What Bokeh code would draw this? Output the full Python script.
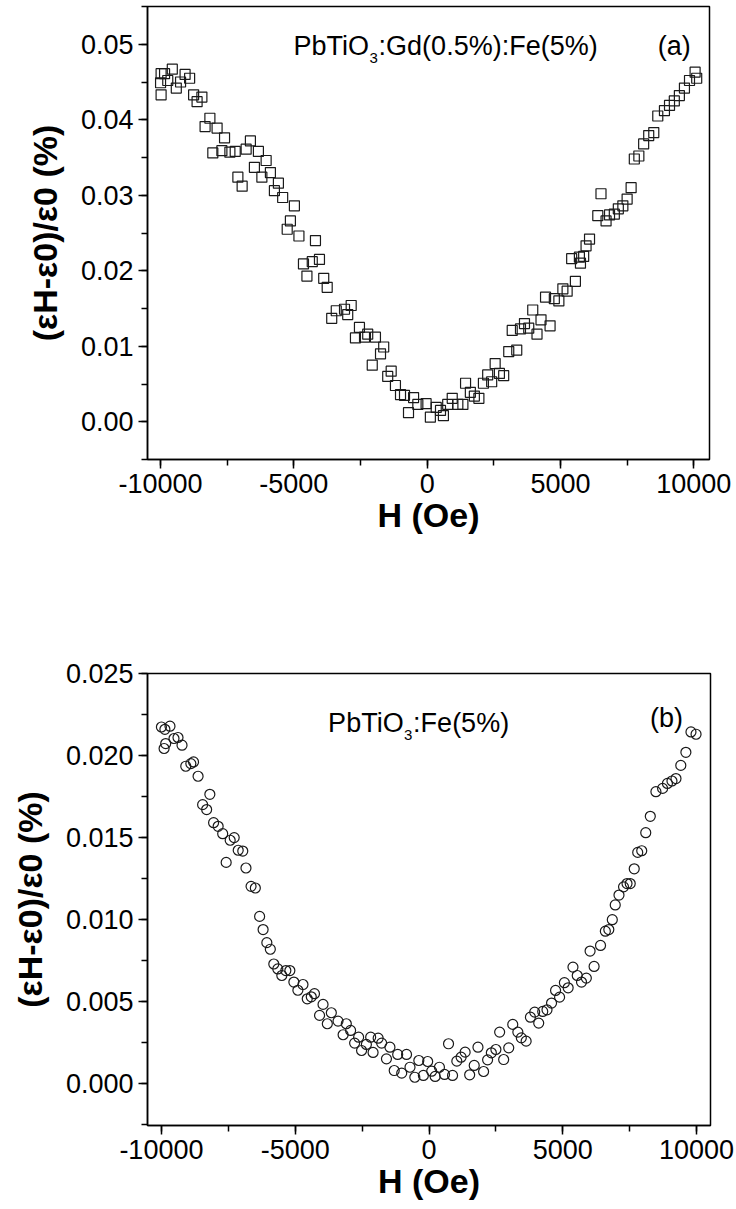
from bokeh.plotting import figure
from bokeh.layouts import column
from bokeh.models import Range1d, SingleIntervalTicker, PrintfTickFormatter, Label
from bokeh.embed import file_html
from bokeh.resources import INLINE

# ---------------- data ----------------
# (a) PbTiO3:Gd(0.5%):Fe(5%)
a_field = [-10000, -9980, -9980, -9850, -9730, -9560, -9410, -9250, -9080, -8910,
           -8760, -8630, -8450, -8330, -8150, -8040, -7880, -7700, -7600, -7400,
           -7200, -7100, -6940, -6790, -6630, -6480, -6330, -6200, -6040, -5880,
           -5730, -5580, -5420, -5250, -5130, -4980, -4810, -4640, -4510, -4310,
           -4190, -4040, -3880, -3750, -3580, -3410, -3100, -2980, -2850, -2690,
           -2540, -2350, -2230, -2060, -1940, -1750, -1630, -1480, -1350, -1190,
           -1000, -850, -700, -510, -350, -40, 120, 340, 500, 610,
           770, 940, 1150, 1340, 1440, 1620, 1770, 1940, 2110, 2270,
           2420, 2550, 2710, 2870, 3060, 3190, 3360, 3500, 3650, 3810,
           3960, 4120, 4270, 4440, 4610, 4770, 4940, 5090, 5250, 5420,
           5560, 5710, 5750, 5870, 5960, 6090, 6400, 6520, 6710, 6840,
           7020, 7170, 7340, 7500, 7650, 7770, 7940, 8120, 8310, 8500,
           8650, 8900, 9090, 9270, 9460, 9650, 9840, 10050, 10110]
a_strain = [0.0449, 0.0461, 0.0433, 0.0461, 0.0452, 0.0467, 0.0442, 0.0450, 0.0460, 0.0455,
            0.0433, 0.0424, 0.0430, 0.0391, 0.0402, 0.0356, 0.0389, 0.0359, 0.0376, 0.0357,
            0.0358, 0.0324, 0.0312, 0.0361, 0.0372, 0.0337, 0.0358, 0.0324, 0.0346, 0.0330,
            0.0306, 0.0316, 0.0297, 0.0255, 0.0266, 0.0286, 0.0246, 0.0209, 0.0193, 0.0212,
            0.0240, 0.0215, 0.0190, 0.0178, 0.0137, 0.0147, 0.0149, 0.0142, 0.0154, 0.0111,
            0.0125, 0.0112, 0.0116, 0.0075, 0.0112, 0.0090, 0.0099, 0.0060, 0.0067, 0.0048,
            0.0036, 0.0035, 0.0012, 0.0032, 0.0023, 0.0024, 0.0006, 0.0019, 0.0015, 0.0008,
            0.0023, 0.0031, 0.0023, 0.0023, 0.0051, 0.0039, 0.0034, 0.0031, 0.0051, 0.0062,
            0.0053, 0.0077, 0.0064, 0.0061, 0.0093, 0.0121, 0.0095, 0.0123, 0.0130, 0.0124,
            0.0148, 0.0116, 0.0135, 0.0165, 0.0127, 0.0163, 0.0160, 0.0176, 0.0173, 0.0216,
            0.0186, 0.0218, 0.0210, 0.0219, 0.0233, 0.0242, 0.0273, 0.0302, 0.0266, 0.0274,
            0.0275, 0.0282, 0.0286, 0.0295, 0.0310, 0.0348, 0.0352, 0.0368, 0.0379, 0.0383,
            0.0405, 0.0412, 0.0419, 0.0425, 0.0432, 0.0442, 0.0452, 0.0463, 0.0455]

# (b) PbTiO3:Fe(5%)
b_field = [-10000, -9900, -9870, -9840, -9680, -9530, -9380, -9230, -9090, -8900,
           -8800, -8630, -8460, -8310, -8190, -8050, -7880, -7710, -7580, -7430,
           -7280, -7130, -6960, -6840, -6650, -6490, -6330, -6200, -6060, -5930,
           -5800, -5650, -5500, -5350, -5200, -5050, -4900, -4710, -4550, -4400,
           -4280, -4090, -3960, -3800, -3650, -3400, -3210, -3090, -2930, -2780,
           -2630, -2520, -2340, -2180, -2090, -1900, -1770, -1590, -1460, -1300,
           -1170, -1020, -840, -710, -530, -380, -210, -50, 100, 230,
           390, 580, 730, 880, 1040, 1200, 1350, 1520, 1690, 1830,
           2040, 2190, 2330, 2500, 2640, 2790, 2980, 3130, 3320, 3450,
           3630, 3790, 3950, 4100, 4250, 4410, 4580, 4730, 4880, 5060,
           5200, 5380, 5540, 5700, 5880, 6020, 6170, 6410, 6590, 6720,
           6850, 6960, 7100, 7270, 7400, 7520, 7670, 7800, 7950, 8100,
           8270, 8480, 8730, 8910, 9080, 9230, 9410, 9600, 9790, 9980]
b_strain = [0.02174, 0.02043, 0.02160, 0.02073, 0.02179, 0.02104, 0.02110, 0.02063, 0.01935, 0.01951,
            0.01961, 0.01874, 0.01701, 0.01671, 0.01764, 0.01591, 0.01569, 0.01524, 0.01349, 0.01484,
            0.01500, 0.01423, 0.01418, 0.01315, 0.01203, 0.01193, 0.01020, 0.00940, 0.00860, 0.00820,
            0.00730, 0.00700, 0.00660, 0.00690, 0.00690, 0.00620, 0.00570, 0.00605, 0.00518, 0.00530,
            0.00549, 0.00417, 0.00484, 0.00366, 0.00433, 0.00382, 0.00299, 0.00366, 0.00325, 0.00248,
            0.00284, 0.00203, 0.00240, 0.00284, 0.00191, 0.00278, 0.00248, 0.00152, 0.00223, 0.00081,
            0.00179, 0.00065, 0.00179, 0.00101, 0.00040, 0.00142, 0.00051, 0.00136, 0.00077, 0.00045,
            0.00101, 0.00057, 0.00244, 0.00051, 0.00138, 0.00162, 0.00193, 0.00055, 0.00112, 0.00223,
            0.00075, 0.00146, 0.00189, 0.00209, 0.00315, 0.00148, 0.00219, 0.00362, 0.00315, 0.00280,
            0.00260, 0.00406, 0.00437, 0.00370, 0.00441, 0.00451, 0.00492, 0.00569, 0.00528, 0.00616,
            0.00585, 0.00711, 0.00660, 0.00620, 0.00644, 0.00809, 0.00715, 0.00843, 0.00930, 0.00940,
            0.01000, 0.01090, 0.01150, 0.01200, 0.01220, 0.01220, 0.01310, 0.01410, 0.01420, 0.01530,
            0.01630, 0.01780, 0.01800, 0.01830, 0.01845, 0.01860, 0.01940, 0.02020, 0.02144, 0.02130]

x_ticks_step = 5000
a_y_step = 0.01
b_y_step = 0.005

x_title = "H (Oe)"
y_title = "(εH-ε0)/ε0 (%)"

FONT = "Liberation Sans"


def style(p, y_step, y_fmt):
    p.grid.visible = False
    p.outline_line_color = "black"
    p.outline_line_width = 1.5
    p.outline_line_alpha = 1.0
    p.background_fill_color = "white"
    p.border_fill_color = "white"
    p.xaxis.ticker = SingleIntervalTicker(interval=x_ticks_step, num_minor_ticks=2)
    p.yaxis.ticker = SingleIntervalTicker(interval=y_step, num_minor_ticks=2)
    p.xaxis.formatter = PrintfTickFormatter(format="%d")
    p.yaxis.formatter = PrintfTickFormatter(format=y_fmt)
    for ax in (p.xaxis, p.yaxis):
        ax.axis_line_color = "black"
        ax.axis_line_width = 1.5
        ax.major_tick_line_color = "black"
        ax.major_tick_line_width = 1.5
        ax.minor_tick_line_color = "black"
        ax.minor_tick_line_width = 1.5
        ax.major_tick_in = 0
        ax.major_tick_out = 9
        ax.minor_tick_in = 0
        ax.minor_tick_out = 6
        ax.major_label_text_font = FONT
        ax.major_label_text_font_size = "27px"
        ax.major_label_text_color = "black"
        ax.axis_label_text_font = FONT
        ax.axis_label_text_font_size = "34px"
        ax.axis_label_text_font_style = "bold"
        ax.axis_label_text_color = "black"
    p.xaxis.axis_label = x_title
    p.yaxis.axis_label = y_title
    p.xaxis.axis_label_standoff = 0
    p.yaxis.axis_label_standoff = 14


def formula(p, x, y, head, sub, tail):
    kw = dict(text_font=FONT, text_color="black", text_baseline="alphabetic")
    p.add_layout(Label(x=x, y=y, text=head, text_font_size="27px", text_align="left", **kw))
    head_w = 76
    p.add_layout(Label(x=x, y=y, x_offset=head_w, y_offset=-12, text=sub,
                       text_font_size="15px", text_align="left", **kw))
    p.add_layout(Label(x=x, y=y, x_offset=head_w + 9, text=tail,
                       text_font_size="27px", text_align="left", **kw))


# ---------------- panel (a) ----------------
p1 = figure(frame_width=562, frame_height=453,
            min_border_left=143, min_border_right=31,
            min_border_top=6, min_border_bottom=181,
            x_range=Range1d(-10490, 10590), y_range=Range1d(-0.005, 0.055),
            output_backend="svg", toolbar_location=None)
style(p1, a_y_step, "%.2f")
p1.scatter(a_field, a_strain, marker="square", size=10, fill_color=None,
           line_color="#1a1a1a", line_width=1.2)
formula(p1, -5010, 0.0498, "PbTiO", "3", ":Gd(0.5%):Fe(5%)")
p1.add_layout(Label(x=9270, y=0.0498, text="(a)", text_font=FONT, text_font_size="27px",
                    text_align="center", text_baseline="alphabetic", text_color="black"))

# ---------------- panel (b) ----------------
p2 = figure(frame_width=563, frame_height=452,
            min_border_left=147, min_border_right=26,
            min_border_top=33, min_border_bottom=84,
            x_range=Range1d(-10520, 10520), y_range=Range1d(-0.00254, 0.025),
            output_backend="svg", toolbar_location=None)
style(p2, b_y_step, "%.3f")
p2.scatter(b_field, b_strain, marker="circle", size=10, fill_color=None,
           line_color="#1a1a1a", line_width=1.2)
formula(p2, -3770, 0.02199, "PbTiO", "3", ":Fe(5%)")
p2.add_layout(Label(x=8880, y=0.02227, text="(b)", text_font=FONT, text_font_size="27px",
                    text_align="center", text_baseline="alphabetic", text_color="black"))

layout = column(p1, p2, spacing=0)
open("out.html", "w").write(file_html(layout, INLINE))
